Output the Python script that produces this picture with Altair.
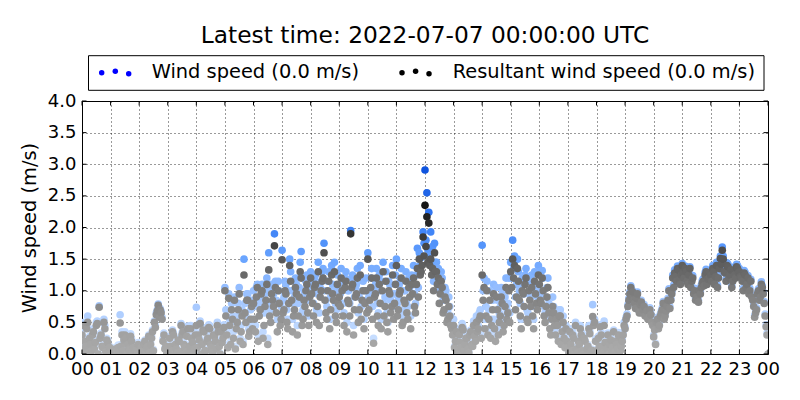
import altair as alt
import numpy as np
import pandas as pd

TITLE = "Latest time: 2022-07-07 00:00:00 UTC"
STEP_MIN = 4  # each list holds one reading every 4 minutes; the "_b" lists are offset by 2 minutes

# resultant wind speed (m/s) at hh:00, hh:04, ... (15 per hour) plus 24:00
resultant = [
    0.30, 0.45, 0.12, 0.50, 0.25, 0.05, 0.35, 0.18, 0.48, 0.74, 0.30, 0.10, 0.40, 0.22, 0.05,  # 00
    0.02, 0.00, 0.05, 0.03, 0.10, 0.49, 0.30, 0.22, 0.25, 0.15, 0.05, 0.20, 0.10, 0.02, 0.00,  # 01
    0.02, 0.10, 0.05, 0.20, 0.08, 0.28, 0.15, 0.35, 0.50, 0.62, 0.77, 0.70, 0.55, 0.30, 0.12,  # 02
    0.10, 0.25, 0.05, 0.30, 0.15, 0.02, 0.20, 0.45, 0.35, 0.10, 0.28, 0.05, 0.40, 0.18, 0.08,  # 03
    0.45, 0.30, 0.48, 0.15, 0.35, 0.05, 0.25, 0.40, 0.10, 0.30, 0.20, 0.45, 0.12, 0.35, 0.25,  # 04
    1.00, 0.30, 0.88, 0.15, 0.55, 0.85, 0.40, 0.70, 0.20, 0.60, 1.25, 0.50, 0.85, 0.35, 0.75,  # 05
    0.80, 0.35, 1.05, 0.60, 0.95, 0.25, 0.75, 1.10, 1.33, 0.50, 0.85, 1.71, 0.65, 1.00, 0.45,  # 06
    1.49, 0.70, 0.95, 0.40, 1.40, 0.85, 0.60, 1.05, 0.30, 0.90, 1.20, 0.55, 0.75, 1.10, 0.45,  # 07
    1.20, 0.80, 1.05, 0.50, 1.30, 0.90, 1.15, 1.60, 0.65, 1.00, 0.40, 1.25, 0.85, 0.60, 1.10,  # 08
    0.90, 1.20, 0.60, 1.05, 0.35, 0.80, 1.90, 1.10, 0.70, 0.95, 0.50, 1.25, 0.85, 0.40, 1.00,  # 09
    1.50, 0.85, 1.20, 0.17, 0.95, 0.60, 1.10, 0.40, 1.30, 0.75, 0.50, 1.00, 0.65, 1.25, 0.80,  # 10
    1.40, 0.70, 1.00, 0.45, 0.85, 1.15, 0.55, 0.90, 1.10, 1.20, 0.65, 1.35, 1.50, 1.30, 1.85,  # 11
    2.35, 2.17, 2.07, 1.50, 1.35, 1.60, 1.30, 1.20, 0.95, 1.05, 0.70, 0.85, 0.55, 0.60, 0.40,  # 12
    0.45, 0.20, 0.05, 0.30, 0.10, 0.38, 0.15, 0.25, 0.02, 0.35, 0.12, 0.28, 0.50, 0.40, 0.60,  # 13
    1.25, 1.05, 0.60, 0.30, 0.85, 0.45, 0.95, 0.20, 0.70, 0.50, 0.90, 0.35, 0.75, 0.55, 1.00,  # 14
    1.30, 1.50, 1.40, 0.90, 1.15, 0.60, 1.00, 0.75, 1.20, 0.50, 0.85, 1.05, 0.40, 0.95, 0.70,  # 15
    1.10, 0.80, 1.00, 0.50, 0.90, 0.65, 0.30, 0.75, 0.45, 0.55, 0.20, 0.60, 0.35, 0.25, 0.40,  # 16
    0.10, 0.35, 0.05, 0.25, 0.45, 0.02, 0.15, 0.30, 0.00, 0.20, 0.08, 0.40, 0.03, 0.59, 0.50,  # 17
    0.05, 0.25, 0.43, 0.10, 0.45, 0.02, 0.30, 0.15, 0.05, 0.35, 0.20, 0.08, 0.28, 0.12, 0.30,  # 18
    0.40, 0.60, 0.85, 1.05, 0.98, 0.80, 0.88, 0.70, 0.78, 0.65, 0.75, 0.60, 0.55, 0.70, 0.50,  # 19
    0.27, 0.15, 0.55, 0.45, 0.65, 0.80, 0.60, 0.75, 1.00, 0.85, 1.20, 1.28, 1.15, 1.33, 1.10,  # 20
    1.40, 1.20, 1.30, 1.10, 1.35, 1.15, 0.95, 0.85, 0.87, 1.00, 1.05, 1.15, 1.25, 1.10, 1.20,  # 21
    1.25, 1.35, 1.10, 1.40, 1.20, 1.51, 1.64, 1.30, 1.15, 1.38, 1.25, 1.05, 1.32, 1.20, 1.35,  # 22
    1.30, 1.20, 1.00, 1.25, 1.10, 0.95, 1.15, 0.85, 0.58, 0.70, 1.00, 0.90, 1.05, 0.80, 0.43,  # 23
    0.00,
]

# resultant wind speed (m/s) at hh:02, hh:06, ...
resultant_b = [
    0.05, 0.20, 0.40, 0.02, 0.15, 0.30, 0.08, 0.45, 0.00, 0.25, 0.12, 0.50, 0.03, 0.18, 0.10,  # 00
    0.00, 0.01, 0.08, 0.00, 0.02, 0.12, 0.05, 0.30, 0.00, 0.08, 0.28, 0.02, 0.00, 0.06, 0.15,  # 01
    0.00, 0.03, 0.15, 0.00, 0.12, 0.02, 0.25, 0.05, 0.42, 0.68, 0.58, 0.65, 0.20, 0.08, 0.00,  # 02
    0.02, 0.12, 0.35, 0.00, 0.08, 0.22, 0.04, 0.30, 0.15, 0.02, 0.40, 0.12, 0.25, 0.00, 0.30,  # 03
    0.10, 0.22, 0.00, 0.38, 0.05, 0.20, 0.42, 0.15, 0.02, 0.28, 0.08, 0.35, 0.00, 0.18, 0.42,  # 04
    0.60, 0.10, 0.45, 0.70, 0.25, 0.08, 0.50, 0.95, 0.35, 0.15, 0.65, 0.85, 0.28, 0.55, 0.40,  # 05
    0.55, 0.90, 0.20, 0.70, 1.00, 0.45, 0.85, 0.15, 0.60, 0.95, 0.75, 1.05, 0.35, 0.80, 0.55,  # 06
    0.65, 1.00, 0.50, 0.80, 1.15, 0.35, 0.70, 0.95, 0.60, 1.30, 0.45, 0.85, 1.00, 0.65, 0.90,  # 07
    0.95, 0.60, 1.10, 0.75, 0.45, 1.00, 1.20, 0.85, 0.55, 1.15, 0.70, 0.95, 1.30, 0.50, 0.80,  # 08
    0.75, 1.00, 0.45, 1.15, 0.85, 0.60, 1.05, 0.30, 0.90, 1.20, 0.70, 0.55, 1.00, 0.80, 0.65,  # 09
    0.70, 1.05, 0.55, 0.90, 1.20, 0.45, 0.80, 1.00, 0.60, 1.15, 0.35, 0.95, 0.75, 0.55, 1.10,  # 10
    0.60, 0.95, 1.20, 0.50, 0.80, 0.65, 1.05, 0.40, 0.95, 0.75, 1.10, 0.90, 1.25, 1.40, 1.55,  # 11
    1.70, 1.45, 1.40, 1.25, 1.00, 1.30, 1.10, 0.80, 1.15, 0.65, 0.90, 0.50, 0.75, 0.45, 0.30,  # 12
    0.10, 0.35, 0.00, 0.18, 0.42, 0.05, 0.25, 0.08, 0.30, 0.15, 0.45, 0.20, 0.35, 0.55, 0.25,  # 13
    0.85, 0.40, 1.00, 0.55, 0.25, 0.70, 0.40, 0.90, 0.30, 0.60, 0.80, 0.45, 1.05, 0.65, 0.50,  # 14
    1.05, 1.20, 0.70, 1.35, 0.85, 0.40, 0.95, 1.10, 0.55, 1.00, 0.75, 0.60, 1.15, 0.80, 1.25,  # 15
    0.85, 1.20, 0.60, 0.75, 1.05, 0.40, 0.55, 0.65, 0.30, 0.45, 0.60, 0.15, 0.50, 0.10, 0.20,  # 16
    0.02, 0.15, 0.30, 0.00, 0.08, 0.20, 0.40, 0.05, 0.25, 0.00, 0.12, 0.32, 0.06, 0.45, 0.20,  # 17
    0.00, 0.12, 0.30, 0.02, 0.18, 0.08, 0.00, 0.22, 0.10, 0.02, 0.15, 0.30, 0.05, 0.20, 0.45,  # 18
    0.55, 0.75, 0.95, 0.90, 0.85, 0.72, 0.95, 0.65, 0.82, 0.70, 0.60, 0.68, 0.58, 0.62, 0.45,  # 19
    0.38, 0.50, 0.40, 0.60, 0.70, 0.55, 0.68, 0.85, 0.72, 0.95, 1.05, 1.22, 1.35, 1.18, 1.25,  # 20
    1.28, 1.35, 1.15, 1.25, 1.05, 1.20, 1.00, 0.90, 0.82, 0.95, 1.12, 1.08, 1.30, 1.18, 1.28,  # 21
    1.15, 1.30, 1.22, 1.05, 1.35, 1.42, 1.50, 1.28, 1.40, 1.20, 1.33, 1.15, 1.25, 1.38, 1.28,  # 22
    1.22, 1.15, 1.28, 1.05, 1.20, 1.00, 0.90, 0.75, 0.65, 0.95, 0.85, 1.10, 0.95, 0.60, 0.30,  # 23
]

# wind speed (m/s) at hh:00, hh:04, ... plus 24:00
wind_speed = [
    0.35, 0.50, 0.15, 0.60, 0.28, 0.08, 0.40, 0.22, 0.52, 0.76, 0.33, 0.12, 0.45, 0.25, 0.07,  # 00
    0.03, 0.02, 0.06, 0.05, 0.14, 0.62, 0.35, 0.25, 0.28, 0.18, 0.07, 0.24, 0.12, 0.03, 0.01,  # 01
    0.03, 0.12, 0.07, 0.22, 0.10, 0.30, 0.18, 0.38, 0.52, 0.65, 0.79, 0.72, 0.58, 0.33, 0.15,  # 02
    0.12, 0.28, 0.06, 0.33, 0.18, 0.03, 0.22, 0.48, 0.40, 0.12, 0.30, 0.07, 0.45, 0.20, 0.10,  # 03
    0.74, 0.33, 0.52, 0.18, 0.40, 0.08, 0.30, 0.45, 0.12, 0.35, 0.24, 0.50, 0.15, 0.40, 0.28,  # 04
    1.05, 0.35, 0.95, 0.20, 0.60, 0.90, 0.50, 0.80, 0.25, 0.70, 1.50, 0.60, 0.95, 0.45, 0.85,  # 05
    1.00, 0.45, 1.10, 0.80, 1.05, 0.35, 0.95, 1.20, 1.60, 0.70, 1.05, 1.90, 0.85, 1.15, 0.60,  # 06
    1.64, 0.90, 1.10, 0.55, 1.50, 1.00, 0.80, 1.20, 0.45, 1.05, 1.62, 0.70, 0.95, 1.25, 0.60,  # 07
    1.30, 1.00, 1.20, 0.70, 1.45, 1.05, 1.30, 1.75, 0.85, 1.15, 0.55, 1.40, 1.00, 0.80, 1.25,  # 08
    1.05, 1.35, 0.80, 1.20, 0.50, 1.00, 1.95, 1.25, 0.90, 1.10, 0.65, 1.40, 1.00, 0.55, 1.20,  # 09
    1.60, 1.00, 1.35, 0.25, 1.10, 0.80, 1.25, 0.55, 1.45, 0.90, 0.65, 1.15, 0.85, 1.40, 0.95,  # 10
    1.50, 0.90, 1.15, 0.60, 1.00, 1.30, 0.75, 1.05, 1.25, 1.40, 0.80, 1.67, 1.60, 1.52, 1.93,  # 11
    2.91, 2.55, 2.24, 1.93, 1.70, 1.75, 1.45, 1.35, 1.10, 1.20, 0.90, 1.00, 0.70, 0.75, 0.50,  # 12
    0.55, 0.22, 0.07, 0.33, 0.12, 0.42, 0.18, 0.28, 0.04, 0.38, 0.15, 0.32, 0.60, 0.45, 0.70,  # 13
    1.72, 1.20, 0.75, 0.40, 1.00, 0.55, 1.10, 0.30, 0.85, 0.65, 1.05, 0.50, 0.90, 0.70, 1.20,  # 14
    1.45, 1.80, 1.55, 1.10, 1.30, 0.80, 1.20, 0.95, 1.35, 0.65, 1.00, 1.25, 0.55, 1.10, 0.90,  # 15
    1.30, 0.95, 1.20, 0.65, 1.05, 0.80, 0.40, 0.90, 0.55, 0.65, 0.25, 0.70, 0.40, 0.30, 0.45,  # 16
    0.12, 0.40, 0.06, 0.30, 0.50, 0.03, 0.18, 0.35, 0.01, 0.22, 0.10, 0.45, 0.04, 0.78, 0.55,  # 17
    0.07, 0.28, 0.46, 0.12, 0.52, 0.03, 0.33, 0.18, 0.06, 0.38, 0.22, 0.10, 0.30, 0.14, 0.35,  # 18
    0.43, 0.63, 0.88, 1.08, 1.00, 0.83, 0.90, 0.73, 0.80, 0.68, 0.78, 0.62, 0.57, 0.73, 0.53,  # 19
    0.30, 0.17, 0.58, 0.48, 0.68, 0.83, 0.63, 0.78, 1.03, 0.88, 1.25, 1.33, 1.18, 1.37, 1.13,  # 20
    1.43, 1.24, 1.33, 1.14, 1.38, 1.18, 0.98, 0.88, 0.90, 1.03, 1.09, 1.19, 1.29, 1.13, 1.24,  # 21
    1.30, 1.40, 1.14, 1.45, 1.24, 1.55, 1.69, 1.34, 1.19, 1.42, 1.29, 1.08, 1.37, 1.23, 1.40,  # 22
    1.35, 1.24, 1.04, 1.29, 1.14, 0.99, 1.18, 0.88, 0.61, 0.73, 1.03, 0.93, 1.08, 0.83, 0.46,  # 23
    0.00,
]

# wind speed (m/s) at hh:02, hh:06, ...
wind_speed_b = [
    0.07, 0.25, 0.45, 0.03, 0.18, 0.35, 0.10, 0.50, 0.01, 0.30, 0.15, 0.55, 0.04, 0.22, 0.12,  # 00
    0.01, 0.02, 0.10, 0.01, 0.03, 0.15, 0.07, 0.35, 0.01, 0.10, 0.32, 0.03, 0.01, 0.08, 0.18,  # 01
    0.01, 0.04, 0.18, 0.01, 0.15, 0.03, 0.28, 0.07, 0.45, 0.70, 0.60, 0.68, 0.24, 0.10, 0.01,  # 02
    0.03, 0.15, 0.38, 0.01, 0.10, 0.25, 0.05, 0.34, 0.18, 0.03, 0.44, 0.15, 0.28, 0.01, 0.34,  # 03
    0.12, 0.26, 0.01, 0.42, 0.07, 0.24, 0.46, 0.18, 0.03, 0.32, 0.10, 0.40, 0.01, 0.22, 0.46,  # 04
    0.70, 0.15, 0.55, 0.80, 0.35, 0.12, 0.60, 1.05, 0.45, 0.20, 0.80, 0.95, 0.40, 0.70, 0.55,  # 05
    0.75, 1.05, 0.30, 0.90, 1.10, 0.65, 1.00, 0.25, 0.80, 1.10, 0.95, 1.15, 0.55, 1.00, 0.75,  # 06
    0.85, 1.15, 0.70, 1.00, 1.30, 0.55, 0.90, 1.10, 0.80, 1.45, 0.65, 1.00, 1.15, 0.85, 1.05,  # 07
    1.10, 0.80, 1.25, 0.95, 0.65, 1.15, 1.35, 1.00, 0.75, 1.30, 0.90, 1.10, 1.45, 0.70, 1.00,  # 08
    0.95, 1.15, 0.65, 1.30, 1.00, 0.80, 1.20, 0.45, 1.05, 1.35, 0.90, 0.75, 1.15, 1.00, 0.85,  # 09
    0.90, 1.20, 0.75, 1.05, 1.35, 0.65, 1.00, 1.15, 0.80, 1.30, 0.50, 1.10, 0.95, 0.75, 1.25,  # 10
    0.80, 1.10, 1.35, 0.70, 1.00, 0.85, 1.20, 0.60, 1.10, 0.95, 1.25, 1.05, 1.40, 1.55, 1.75,  # 11
    1.80, 1.65, 1.55, 1.40, 1.15, 1.45, 1.25, 1.00, 1.30, 0.85, 1.05, 0.65, 0.90, 0.60, 0.40,  # 12
    0.12, 0.40, 0.01, 0.22, 0.48, 0.07, 0.30, 0.10, 0.35, 0.18, 0.52, 0.24, 0.40, 0.65, 0.30,  # 13
    1.00, 0.55, 1.15, 0.70, 0.35, 0.85, 0.55, 1.05, 0.40, 0.75, 0.95, 0.60, 1.20, 0.80, 0.65,  # 14
    1.20, 1.35, 0.90, 1.50, 1.00, 0.55, 1.10, 1.25, 0.70, 1.15, 0.90, 0.75, 1.30, 1.00, 1.40,  # 15
    1.00, 1.32, 0.75, 0.90, 1.20, 0.55, 0.65, 0.75, 0.40, 0.55, 0.70, 0.20, 0.60, 0.13, 0.25,  # 16
    0.03, 0.18, 0.35, 0.01, 0.10, 0.24, 0.45, 0.07, 0.30, 0.01, 0.15, 0.36, 0.08, 0.50, 0.24,  # 17
    0.01, 0.15, 0.34, 0.03, 0.22, 0.10, 0.01, 0.26, 0.12, 0.03, 0.18, 0.34, 0.07, 0.24, 0.50,  # 18
    0.58, 0.78, 0.98, 0.93, 0.88, 0.75, 0.98, 0.68, 0.85, 0.73, 0.63, 0.71, 0.61, 0.65, 0.48,  # 19
    0.41, 0.53, 0.43, 0.63, 0.73, 0.58, 0.71, 0.88, 0.75, 0.98, 1.09, 1.26, 1.39, 1.22, 1.29,  # 20
    1.32, 1.39, 1.19, 1.29, 1.09, 1.24, 1.04, 0.93, 0.85, 0.98, 1.16, 1.12, 1.34, 1.22, 1.32,  # 21
    1.19, 1.34, 1.26, 1.09, 1.39, 1.46, 1.55, 1.32, 1.44, 1.24, 1.37, 1.19, 1.29, 1.42, 1.32,  # 22
    1.26, 1.19, 1.32, 1.09, 1.24, 1.04, 0.93, 0.78, 0.68, 0.98, 0.88, 1.14, 0.98, 0.63, 0.33,  # 23
]

X_TICKS = list(range(25))
Y_TICKS = [0.0, 0.5, 1.0, 1.5, 2.0, 2.5, 3.0, 3.5, 4.0]

hours_a = np.arange(len(resultant)) * STEP_MIN / 60
hours_b = (np.arange(len(resultant_b)) * STEP_MIN + STEP_MIN / 2) / 60
df = pd.concat([
    pd.DataFrame({"hour": hours_a, "ws": wind_speed, "rs": resultant}),
    pd.DataFrame({"hour": hours_b, "ws": wind_speed_b, "rs": resultant_b}),
]).sort_values("hour")

W, H = 686, 253
FONT = "DejaVu Sans"
DOT = 58

xaxis = alt.Axis(
    values=X_TICKS, title=None, grid=True, labelFlush=False, labelOverlap=False,
    labelExpr="(datum.value % 24) < 10 ? '0' + (datum.value % 24) : '' + datum.value",
    labelPadding=6,
)
yaxis = alt.Axis(
    values=Y_TICKS, format=".1f", title="Wind speed (m/s)", grid=True,
    labelFlush=False, labelPadding=6,
    titleX=-47, titleY=H / 2, titleAngle=-90, titleBaseline="alphabetic", titleAlign="center",
)
xscale = alt.Scale(domain=[0, 24], nice=False, zero=False)
yscale = alt.Scale(domain=[0, 4], nice=False)


def xe(field):
    return alt.X(field, scale=xscale, axis=xaxis)


def ye(field):
    return alt.Y(field, scale=yscale, axis=yaxis)


# colour follows the value, as in the original (light = calm, dark = strong)
blues = alt.Scale(domain=[0, 0.5, 1.0, 1.5, 2.0, 3.0],
                  range=["#d4e5ff", "#b8d4ff", "#98c0ff", "#6aa5ff", "#3a80f5", "#0a4fdc"],
                  clamp=True)
greys = alt.Scale(domain=[0, 0.3, 0.7, 1.0, 1.3, 1.6, 2.0, 2.4],
                  range=["#acacac", "#a2a2a2", "#8c8c8c", "#7b7b7b", "#676767", "#505050",
                         "#2e2e2e", "#111111"],
                  clamp=True)

ws_pts = alt.Chart(df).mark_circle(size=DOT, opacity=1, clip=True).encode(
    x=xe("hour:Q"), y=ye("ws:Q"), color=alt.Color("ws:Q", scale=blues, legend=None)
)
rs_pts = alt.Chart(df).mark_circle(size=DOT, opacity=1, clip=True).encode(
    x=xe("hour:Q"), y=ye("rs:Q"), color=alt.Color("rs:Q", scale=greys, legend=None)
)

# inward ticks on all four sides (matplotlib classic look)
tx = pd.DataFrame({"t": X_TICKS})
ty = pd.DataFrame({"v": Y_TICKS})
TL = 4.5
ticks = [
    alt.Chart(tx).mark_rule(color="black").encode(x=xe("t:Q"), y=alt.value(H), y2=alt.value(H - TL)),
    alt.Chart(tx).mark_rule(color="black").encode(x=xe("t:Q"), y=alt.value(0), y2=alt.value(TL)),
    alt.Chart(ty).mark_rule(color="black").encode(y=ye("v:Q"), x=alt.value(0), x2=alt.value(TL)),
    alt.Chart(ty).mark_rule(color="black").encode(y=ye("v:Q"), x=alt.value(W), x2=alt.value(W - TL)),
]

one = pd.DataFrame({"k": [0]})

title = alt.Chart(one).mark_text(font=FONT, fontSize=23.3, baseline="alphabetic", align="center").encode(
    x=alt.value(W / 2), y=alt.value(-58), text=alt.value(TITLE)
)

# legend box above the plot
legend = [
    alt.Chart(one).mark_rect(fill="white", stroke="black", strokeWidth=1).encode(
        x=alt.value(6.5), x2=alt.value(682), y=alt.value(-45.3), y2=alt.value(-10.7)
    )
]
for x0, colour in [(19.7, "#0000ff"), (320.0, "#000000")]:
    for dx, dy in [(0, -28.3), (13.6, -29.7), (27.0, -27.3)]:
        legend.append(
            alt.Chart(one).mark_circle(size=30, opacity=1, color=colour).encode(
                x=alt.value(x0 + dx), y=alt.value(dy)
            )
        )
legend += [
    alt.Chart(one).mark_text(font=FONT, fontSize=19.4, align="left", baseline="middle").encode(
        x=alt.value(69.7), y=alt.value(-29), text=alt.value(f"Wind speed ({wind_speed[-1]:.1f} m/s)")
    ),
    alt.Chart(one).mark_text(font=FONT, fontSize=19.4, align="left", baseline="middle").encode(
        x=alt.value(370.7), y=alt.value(-29),
        text=alt.value(f"Resultant wind speed ({resultant[-1]:.1f} m/s)")
    ),
]

chart = (
    alt.layer(ws_pts, rs_pts, *ticks, title, *legend)
    .resolve_scale(color="independent")
    .properties(
        width=W, height=H,
        autosize=alt.AutoSizeParams(type="none"),
        padding={"left": 74, "top": 93, "right": 18, "bottom": 30},
    )
    .configure_view(stroke="black", strokeWidth=1)
    .configure_axis(
        domain=False, ticks=False, tickSize=0, zindex=1,
        gridColor="black", gridWidth=0.8, gridDash=[1, 3], gridOpacity=1,
        labelFont=FONT, labelFontSize=18, labelColor="black",
        titleFont=FONT, titleFontSize=19.4, titleFontWeight="normal", titleColor="black",
    )
)

chart.save("out.html", embed_options={"renderer": "svg", "actions": False})
